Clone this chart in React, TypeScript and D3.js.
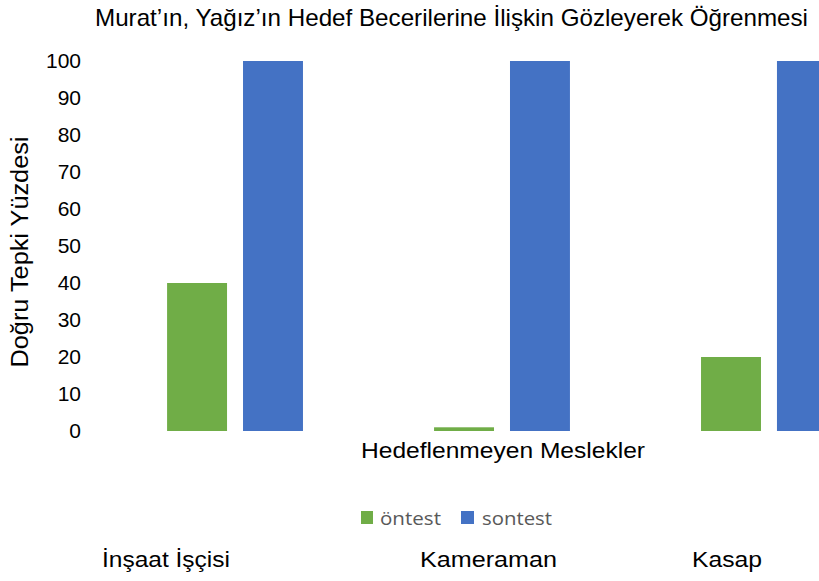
import React from "react";
import * as d3 from "d3";

const categories = ["İnşaat İşçisi", "Kameraman", "Kasap"];
const seriesNames = ["öntest", "sontest"];
const ontest = [40, 1, 20];
const sontest = [100, 100, 100];
const yTicks = [0, 10, 20, 30, 40, 50, 60, 70, 80, 90, 100];
const colors = ["#70AD47", "#4472C4"];
const title = "Murat’ın, Yağız’ın  Hedef Becerilerine İlişkin Gözleyerek Öğrenmesi";
const yTitle = "Doğru Tepki Yüzdesi";
const xTitle = "Hedeflenmeyen Meslekler";

const W = 819;
const H = 581;
const catLabelX = [102, 420, 692];
const catLabelLen = [128, 137, 70];

export default function App() {
  const y = d3.scaleLinear().domain([0, 100]).range([431, 61]);
  const x0 = d3.scaleBand<string>().domain(categories).range([36, 968]).paddingInner(0.491).paddingOuter(0.491);
  const x1 = d3.scaleBand<string>().domain(seriesNames).range([0, x0.bandwidth()]).paddingInner(16 / 76);
  const values = [ontest, sontest];
  const font = "'Liberation Sans', Arial, sans-serif";

  return (
    <svg width={W} height={H} style={{ position: "absolute", left: 0, top: 0, background: "#fff" }}>
      <text x={95} y={26} fontFamily={font} fontSize={24} fill="#000" textLength={713} lengthAdjust="spacingAndGlyphs">
        {title}
      </text>
      {yTicks.map((t) => (
        <text key={t} x={81} y={y(t)} dy="0.35em" textAnchor="end" fontFamily={font} fontSize={21} fill="#000">
          {t}
        </text>
      ))}
      <text
        transform={`translate(28,252) rotate(-90)`}
        textAnchor="middle"
        fontFamily={font}
        fontSize={23}
        fill="#000"
        textLength={231}
        lengthAdjust="spacingAndGlyphs"
      >
        {yTitle}
      </text>
      {categories.map((c, i) => (
        <g key={c} transform={`translate(${x0(c)},0)`}>
          {seriesNames.map((s, j) => (
            <rect
              key={s}
              x={x1(s)}
              y={y(values[j][i])}
              width={x1.bandwidth()}
              height={y(0) - y(values[j][i])}
              fill={colors[j]}
            />
          ))}
        </g>
      ))}
      <text x={361} y={458} fontFamily={font} fontSize={22} fill="#000" textLength={284} lengthAdjust="spacingAndGlyphs">
        {xTitle}
      </text>
      <g>
        <rect x={361} y={511} width={12} height={13} fill={colors[0]} />
        <text x={380} y={525} fontFamily="'Open Sans', sans-serif" fontSize={18} fill="#595959" textLength={61} lengthAdjust="spacingAndGlyphs">
          {seriesNames[0]}
        </text>
        <rect x={461} y={511} width={13} height={13} fill={colors[1]} />
        <text x={482} y={525} fontFamily="'Open Sans', sans-serif" fontSize={18} fill="#595959" textLength={70} lengthAdjust="spacingAndGlyphs">
          {seriesNames[1]}
        </text>
      </g>
      {categories.map((c, i) => (
        <text
          key={c}
          x={catLabelX[i]}
          y={567}
          fontFamily={font}
          fontSize={22}
          fill="#000"
          textLength={catLabelLen[i]}
          lengthAdjust="spacingAndGlyphs"
        >
          {c}
        </text>
      ))}
    </svg>
  );
}
